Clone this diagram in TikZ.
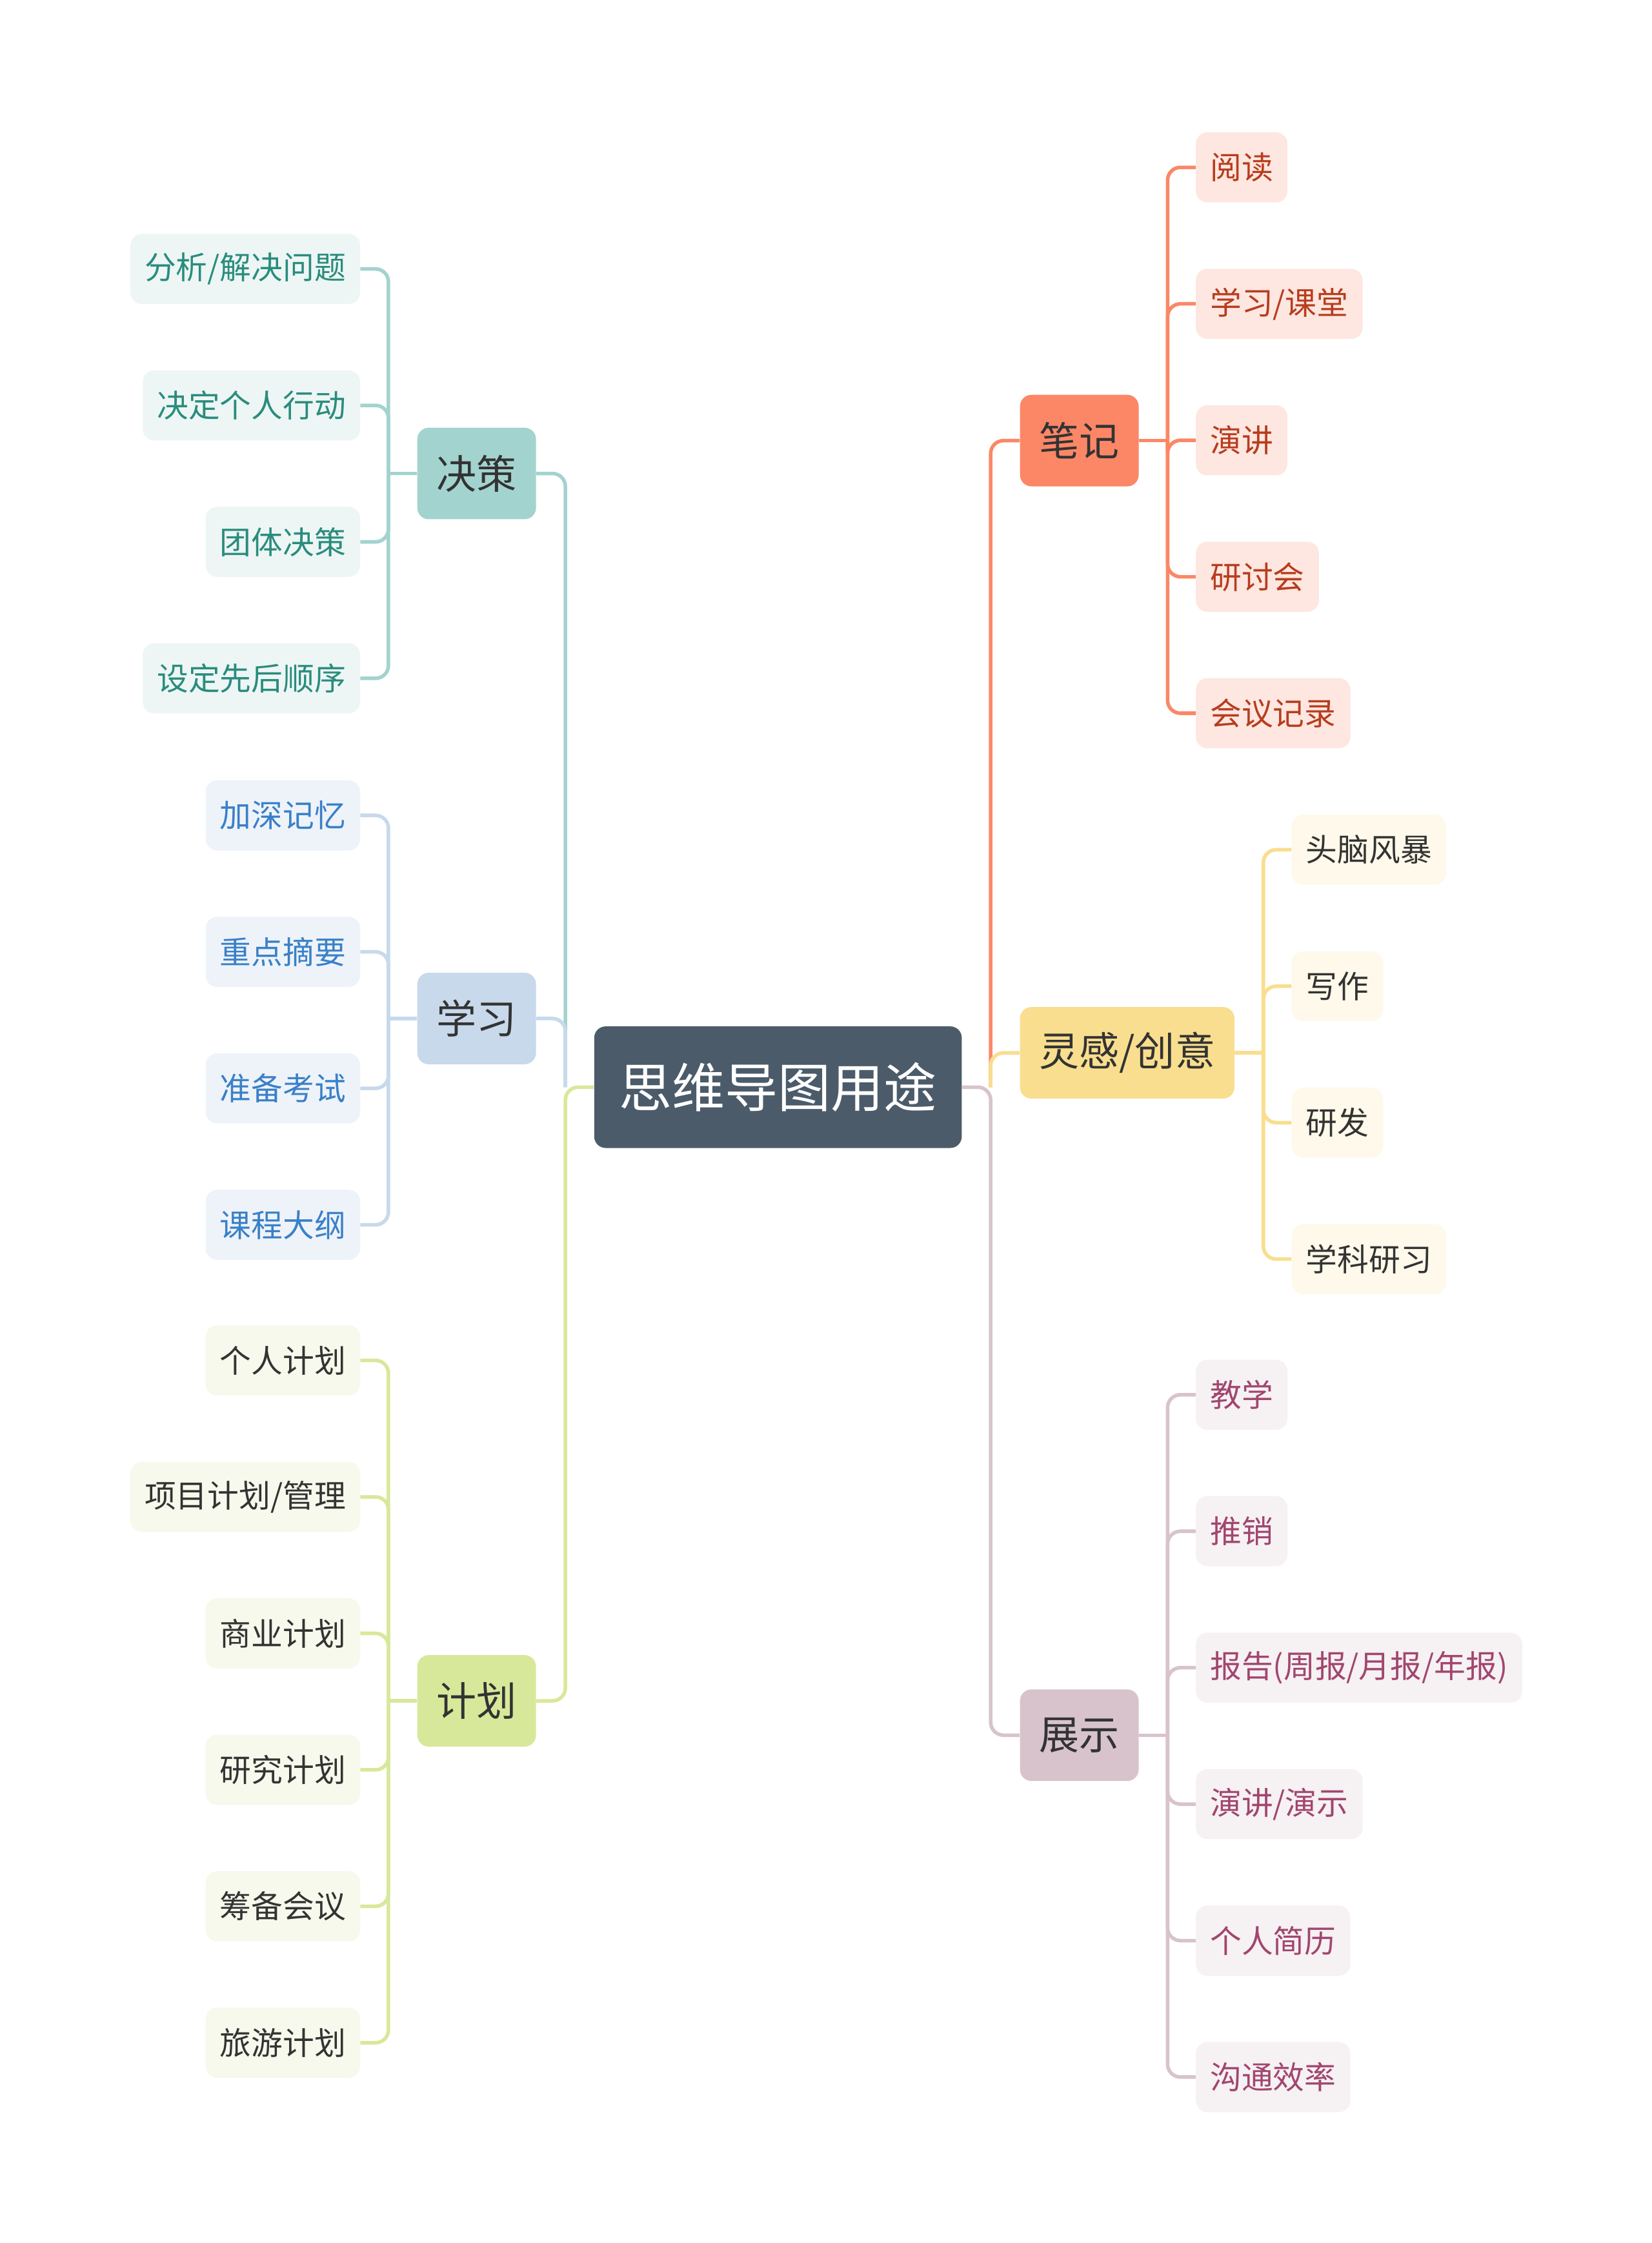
\documentclass[tikz,border=0pt]{standalone}
\usepackage{fontspec}
\newfontfamily\cjk{Noto Sans CJK SC}
\usepackage{tikz}
\usetikzlibrary{positioning}

\definecolor{rootfill}{HTML}{4B5B6A}
\definecolor{textdark}{HTML}{333333}
\definecolor{tealfill}{HTML}{A3D3CE}
\definecolor{tealleaf}{HTML}{EDF6F5}
\definecolor{tealtext}{HTML}{2A8C7D}
\definecolor{bluefill}{HTML}{C7D9EB}
\definecolor{blueleaf}{HTML}{EEF3F9}
\definecolor{bluetext}{HTML}{3A80C8}
\definecolor{greenfill}{HTML}{D8E89A}
\definecolor{greenleaf}{HTML}{F6F9EB}
\definecolor{orangefill}{HTML}{FB8767}
\definecolor{orangeleaf}{HTML}{FDE7E0}
\definecolor{orangetext}{HTML}{B83C1E}
\definecolor{yellowfill}{HTML}{F8DE8E}
\definecolor{yellowleaf}{HTML}{FEF9EA}
\definecolor{mauvefill}{HTML}{D8C3CD}
\definecolor{mauveleaf}{HTML}{F6F1F3}
\definecolor{mauvetext}{HTML}{A1466F}

\tikzset{
  root/.style={rounded corners=8pt, fill=rootfill, text=white, font=\cjk\fontsize{37}{44}\selectfont, inner xsep=17.5pt, minimum height=85pt},
  topic/.style={rounded corners=8pt, text=textdark, font=\cjk\fontsize{28}{34}\selectfont, inner xsep=13.5pt, minimum height=64pt},
  leaf/.style={rounded corners=8pt, font=\cjk\fontsize{22}{26}\selectfont, inner xsep=10pt, minimum height=49pt},
  link/.style={line width=2.5pt, rounded corners=9pt},
}

\begin{document}
\begin{tikzpicture}[x=1pt, y=-1pt, node distance=46pt]
    \useasboundingbox (0,0) rectangle (1155,1568);

    \node(root) [root] at (544,760) {思维导图用途};

    % left side
    \node(jc) [topic, fill=tealfill, anchor=east] at (375,331) {决策};
    \node(xx) [topic, fill=bluefill, anchor=east] at (375,712) {学习};
    \node(jh) [topic, fill=greenfill, anchor=east] at (375,1189) {计划};

    % right side
    \node(bj) [topic, fill=orangefill, anchor=west] at (713,308) {笔记};
    \node(lg) [topic, fill=yellowfill, anchor=west] at (713,736) {灵感/创意};
    \node(zs) [topic, fill=mauvefill, anchor=west] at (713,1213) {展示};

    \coordinate(rootL) at ([xshift=-20pt]root.west);
    \coordinate(rootR) at ([xshift=20pt]root.east);
    \coordinate(jcj) at ([xshift=-20pt]jc.west);
    \coordinate(xxj) at ([xshift=-20pt]xx.west);
    \coordinate(jhj) at ([xshift=-20pt]jh.west);
    \coordinate(bjj) at ([xshift=20pt]bj.east);
    \coordinate(lgj) at ([xshift=20pt]lg.east);
    \coordinate(zsj) at ([xshift=20pt]zs.east);

    % 决策
    \node(jc1) [leaf, fill=tealleaf, text=tealtext, anchor=east] at (252,188) {分析/解决问题};
    \node(jc2) [leaf, fill=tealleaf, text=tealtext, below=of jc1.south east, anchor=north east] {决定个人行动};
    \node(jc3) [leaf, fill=tealleaf, text=tealtext, below=of jc2.south east, anchor=north east] {团体决策};
    \node(jc4) [leaf, fill=tealleaf, text=tealtext, below=of jc3.south east, anchor=north east] {设定先后顺序};

    % 学习
    \node(xx1) [leaf, fill=blueleaf, text=bluetext, anchor=east] at (252,570) {加深记忆};
    \node(xx2) [leaf, fill=blueleaf, text=bluetext, below=of xx1.south east, anchor=north east] {重点摘要};
    \node(xx3) [leaf, fill=blueleaf, text=bluetext, below=of xx2.south east, anchor=north east] {准备考试};
    \node(xx4) [leaf, fill=blueleaf, text=bluetext, below=of xx3.south east, anchor=north east] {课程大纲};

    % 计划
    \node(jh1) [leaf, fill=greenleaf, text=textdark, anchor=east] at (252,951) {个人计划};
    \node(jh2) [leaf, fill=greenleaf, text=textdark, below=of jh1.south east, anchor=north east] {项目计划/管理};
    \node(jh3) [leaf, fill=greenleaf, text=textdark, below=of jh2.south east, anchor=north east] {商业计划};
    \node(jh4) [leaf, fill=greenleaf, text=textdark, below=of jh3.south east, anchor=north east] {研究计划};
    \node(jh5) [leaf, fill=greenleaf, text=textdark, below=of jh4.south east, anchor=north east] {筹备会议};
    \node(jh6) [leaf, fill=greenleaf, text=textdark, below=of jh5.south east, anchor=north east] {旅游计划};

    % 笔记
    \node(bj1) [leaf, fill=orangeleaf, text=orangetext, anchor=west] at (836,117) {阅读};
    \node(bj2) [leaf, fill=orangeleaf, text=orangetext, below=of bj1.south west, anchor=north west] {学习/课堂};
    \node(bj3) [leaf, fill=orangeleaf, text=orangetext, below=of bj2.south west, anchor=north west] {演讲};
    \node(bj4) [leaf, fill=orangeleaf, text=orangetext, below=of bj3.south west, anchor=north west] {研讨会};
    \node(bj5) [leaf, fill=orangeleaf, text=orangetext, below=of bj4.south west, anchor=north west] {会议记录};

    % 灵感/创意
    \node(lg1) [leaf, fill=yellowleaf, text=textdark, anchor=west] at (903,594) {头脑风暴};
    \node(lg2) [leaf, fill=yellowleaf, text=textdark, below=of lg1.south west, anchor=north west] {写作};
    \node(lg3) [leaf, fill=yellowleaf, text=textdark, below=of lg2.south west, anchor=north west] {研发};
    \node(lg4) [leaf, fill=yellowleaf, text=textdark, below=of lg3.south west, anchor=north west] {学科研习};

    % 展示
    \node(zs1) [leaf, fill=mauveleaf, text=mauvetext, anchor=west] at (836,975) {教学};
    \node(zs2) [leaf, fill=mauveleaf, text=mauvetext, below=of zs1.south west, anchor=north west] {推销};
    \node(zs3) [leaf, fill=mauveleaf, text=mauvetext, below=of zs2.south west, anchor=north west] {报告(周报/月报/年报)};
    \node(zs4) [leaf, fill=mauveleaf, text=mauvetext, below=of zs3.south west, anchor=north west] {演讲/演示};
    \node(zs5) [leaf, fill=mauveleaf, text=mauvetext, below=of zs4.south west, anchor=north west] {个人简历};
    \node(zs6) [leaf, fill=mauveleaf, text=mauvetext, below=of zs5.south west, anchor=north west] {沟通效率};

    % connectors: root to topics
    \draw[link, tealfill](jc.east) -| (rootL);
    \draw[link, bluefill](xx.east) -| (rootL);
    \draw[link, greenfill](jh.east) -| (rootL) -- (root.west);
    \draw[link, orangefill](bj.west) -| (rootR);
    \draw[link, yellowfill](lg.west) -| (rootR);
    \draw[link, mauvefill](zs.west) -| (rootR) -- (root.east);

    % connectors: topics to leaves
    \draw[link, tealfill](jc1.east) -| (jcj);
    \draw[link, tealfill](jc2.east) -| (jcj);
    \draw[link, tealfill](jc3.east) -| (jcj);
    \draw[link, tealfill](jc4.east) -| (jcj);
    \draw[link, tealfill](jcj) -- (jc.west);

    \draw[link, bluefill](xx1.east) -| (xxj);
    \draw[link, bluefill](xx2.east) -| (xxj);
    \draw[link, bluefill](xx3.east) -| (xxj);
    \draw[link, bluefill](xx4.east) -| (xxj);
    \draw[link, bluefill](xxj) -- (xx.west);

    \draw[link, greenfill](jh1.east) -| (jhj);
    \draw[link, greenfill](jh2.east) -| (jhj);
    \draw[link, greenfill](jh3.east) -| (jhj);
    \draw[link, greenfill](jh4.east) -| (jhj);
    \draw[link, greenfill](jh5.east) -| (jhj);
    \draw[link, greenfill](jh6.east) -| (jhj);
    \draw[link, greenfill](jhj) -- (jh.west);

    \draw[link, orangefill](bj1.west) -| (bjj);
    \draw[link, orangefill](bj2.west) -| (bjj);
    \draw[link, orangefill](bj3.west) -| (bjj);
    \draw[link, orangefill](bj4.west) -| (bjj);
    \draw[link, orangefill](bj5.west) -| (bjj);
    \draw[link, orangefill](bjj) -- (bj.east);

    \draw[link, yellowfill](lg1.west) -| (lgj);
    \draw[link, yellowfill](lg2.west) -| (lgj);
    \draw[link, yellowfill](lg3.west) -| (lgj);
    \draw[link, yellowfill](lg4.west) -| (lgj);
    \draw[link, yellowfill](lgj) -- (lg.east);

    \draw[link, mauvefill](zs1.west) -| (zsj);
    \draw[link, mauvefill](zs2.west) -| (zsj);
    \draw[link, mauvefill](zs3.west) -| (zsj);
    \draw[link, mauvefill](zs4.west) -| (zsj);
    \draw[link, mauvefill](zs5.west) -| (zsj);
    \draw[link, mauvefill](zs6.west) -| (zsj);
    \draw[link, mauvefill](zsj) -- (zs.east);
  \end{tikzpicture}
\end{document}
